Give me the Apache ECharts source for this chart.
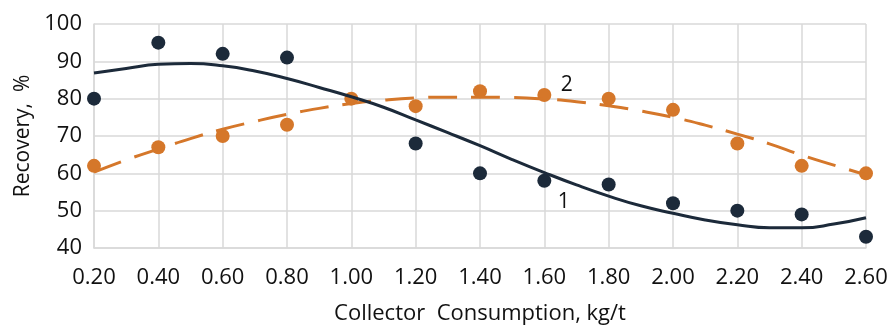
<!DOCTYPE html>
<html>
<head>
<meta charset="utf-8">
<script src="https://cdn.jsdelivr.net/npm/echarts@6/dist/echarts.min.js"></script>
<style>
html,body{margin:0;padding:0;background:#fff;}
#c{width:891px;height:327px;}
</style>
</head>
<body>
<div id="c"></div>
<script>
// Measured points
const xValues = [0.2, 0.4, 0.6, 0.8, 1.0, 1.2, 1.4, 1.6, 1.8, 2.0, 2.2, 2.4, 2.6];
const recovery1 = [80, 95, 92, 91, null, 68, 60, 58, 57, 52, 50, 49, 43];
const recovery2 = [62, 67, 70, 73, 80, 78, 82, 81, 80, 77, 68, 62, 60];

// Trend lines
const trendX = [0.2, 0.3, 0.4, 0.5, 0.6, 0.7, 0.8, 0.9, 1.0, 1.1, 1.2, 1.3, 1.4, 1.5, 1.6, 1.7, 1.8, 1.9, 2.0, 2.1, 2.2, 2.3, 2.4, 2.5, 2.6];
const trend1 = [86.9, 88.1, 89.2, 89.4, 88.8, 87.4, 85.4, 83.0, 80.5, 77.7, 74.3, 70.9, 67.4, 63.7, 60.2, 56.9, 53.9, 51.3, 49.3, 47.5, 46.2, 45.4, 45.4, 46.4, 48.1];
const trend2 = [60.3, 63.6, 66.5, 69.3, 71.8, 73.9, 75.8, 77.4, 78.7, 79.6, 80.2, 80.4, 80.4, 80.3, 79.9, 79.2, 78.1, 76.7, 75.0, 72.9, 70.5, 67.9, 64.9, 62.2, 59.6];

const seriesLabels = ['1', '2'];
const labelAt1 = [1.66, 52.3];
const labelAt2 = [1.67, 83.6];

const xTitle = 'Collector  Consumption, kg/t';
const yTitle = 'Recovery,  %';

const dark = '#1c2a3a';
const orange = '#d5772a';
const font = "'Open Sans', 'Noto Sans', sans-serif";

function pairs(xs, ys) {
  const out = [];
  for (let i = 0; i < xs.length; i++) if (ys[i] != null) out.push([xs[i], ys[i]]);
  return out;
}

const chart = echarts.init(document.getElementById('c'), null, {renderer: 'canvas'});
chart.setOption({
  animation: false,
  backgroundColor: '#fff',
  grid: {left: 94, right: 25, top: 24, bottom: 79, containLabel: false, outerBoundsMode: 'none'},
  xAxis: {
    type: 'value', min: 0.2, max: 2.6, interval: 0.2,
    name: xTitle, nameLocation: 'middle', nameGap: 55,
    nameTextStyle: {fontFamily: font, fontSize: 22, color: '#111'},
    axisLine: {show: true, lineStyle: {color: '#d9d9d9', width: 1.5}},
    axisTick: {show: false},
    axisLabel: {fontFamily: font, fontSize: 22, color: '#111', margin: 19,
      formatter: v => v.toFixed(2)},
    splitLine: {show: true, lineStyle: {color: '#d9d9d9', width: 1.5}}
  },
  yAxis: {
    type: 'value', min: 40, max: 100, interval: 10,
    name: yTitle, nameLocation: 'middle', nameGap: 58, nameRotate: 90,
    nameTextStyle: {fontFamily: font, fontSize: 21, color: '#111'},
    axisLine: {show: true, lineStyle: {color: '#d9d9d9', width: 1.5}},
    axisTick: {show: false},
    axisLabel: {fontFamily: font, fontSize: 22, color: '#111', margin: 12},
    splitLine: {show: true, lineStyle: {color: '#d9d9d9', width: 1.5}}
  },
  series: [
    {type: 'scatter', data: pairs(xValues, recovery1), symbolSize: 14,
     itemStyle: {color: dark, opacity: 1}, z: 2},
    {type: 'scatter', data: pairs(xValues, recovery2), symbolSize: 14,
     itemStyle: {color: orange, opacity: 1}, z: 3},
    {type: 'line', data: pairs(trendX, trend2), smooth: true, showSymbol: false,
     lineStyle: {color: orange, width: 3, type: [29, 14]}, z: 4,
     markPoint: {symbol: 'circle', symbolSize: 0,
       label: {show: true, formatter: seriesLabels[1], fontFamily: font, fontSize: 21, color: '#111'},
       data: [{coord: labelAt2}]}},
    {type: 'line', data: pairs(trendX, trend1), smooth: true, showSymbol: false,
     lineStyle: {color: dark, width: 3}, z: 5,
     markPoint: {symbol: 'circle', symbolSize: 0,
       label: {show: true, formatter: seriesLabels[0], fontFamily: font, fontSize: 21, color: '#111'},
       data: [{coord: labelAt1}]}}
  ]
});
</script>
</body>
</html>
